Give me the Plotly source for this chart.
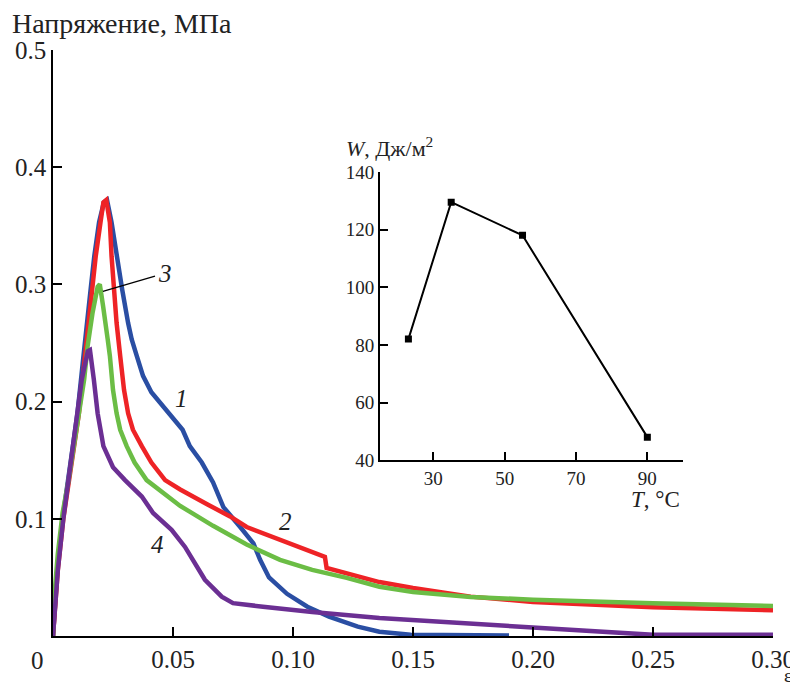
import plotly.graph_objects as go

# Curve 1 (blue)
x1 = [0, 0.0018, 0.004, 0.0062, 0.0082, 0.0102, 0.0127, 0.0144, 0.0157, 0.0172, 0.0192, 0.0212, 0.0225,
      0.0244, 0.0265, 0.0288, 0.0313, 0.0328, 0.0349, 0.0375, 0.041, 0.048, 0.054, 0.057, 0.062, 0.0667,
      0.071, 0.078, 0.0835, 0.0863, 0.090, 0.0975, 0.106, 0.115, 0.127, 0.136, 0.149, 0.19]
y1 = [0, 0.056, 0.1, 0.133, 0.162, 0.19, 0.239, 0.267, 0.296, 0.324, 0.353, 0.370, 0.372,
      0.353, 0.324, 0.296, 0.267, 0.253, 0.239, 0.222, 0.208, 0.19, 0.176, 0.162, 0.148, 0.131,
      0.11, 0.093, 0.079, 0.065, 0.050, 0.036, 0.025, 0.0165, 0.008, 0.0037, 0.001, 0.0005]

# Curve 2 (red)
x2 = [0, 0.002, 0.0043, 0.0065, 0.0088, 0.0108, 0.0133, 0.015, 0.0163, 0.0178, 0.0198, 0.021, 0.0222,
      0.0237, 0.0244, 0.0254, 0.0265, 0.028, 0.0296, 0.0313, 0.0333, 0.037, 0.041, 0.0467, 0.053, 0.0646,
      0.0738, 0.0807, 0.0946, 0.108, 0.1133, 0.114, 0.1224, 0.136, 0.150, 0.174, 0.20, 0.25, 0.30]
y2 = [0, 0.056, 0.1, 0.133, 0.162, 0.19, 0.239, 0.267, 0.296, 0.324, 0.353, 0.370, 0.372,
      0.353, 0.324, 0.296, 0.267, 0.239, 0.21, 0.19, 0.176, 0.162, 0.148, 0.133, 0.125, 0.112,
      0.102, 0.093, 0.082, 0.072, 0.0675, 0.058, 0.0538, 0.046, 0.041, 0.0336, 0.029, 0.0245, 0.022]

# Curve 3 (green)
x3 = [0, 0.0004, 0.002, 0.004, 0.0065, 0.009, 0.011, 0.013, 0.0144, 0.0165, 0.0186, 0.0195, 0.0209,
      0.022, 0.0228, 0.0237, 0.0244, 0.025, 0.0265, 0.028, 0.0307, 0.034, 0.039, 0.048, 0.053, 0.0578,
      0.0667, 0.0807, 0.0946, 0.108, 0.1224, 0.136, 0.150, 0.174, 0.20, 0.25, 0.30]
y3 = [0, 0.03, 0.07, 0.105, 0.133, 0.165, 0.19, 0.219, 0.247, 0.276, 0.298, 0.300, 0.281,
      0.267, 0.253, 0.239, 0.225, 0.21, 0.19, 0.176, 0.162, 0.148, 0.133, 0.119, 0.111, 0.105,
      0.094, 0.078, 0.065, 0.0564, 0.0496, 0.042, 0.0376, 0.0333, 0.031, 0.028, 0.0257]

# Curve 4 (purple)
x4 = [0, 0.001, 0.002, 0.0043, 0.0065, 0.0085, 0.0104, 0.012, 0.0145, 0.0154, 0.017, 0.0186, 0.021,
      0.025, 0.030, 0.037, 0.0417, 0.0494, 0.055, 0.059, 0.0633, 0.0703, 0.075, 0.0875, 0.108, 0.136,
      0.16, 0.20, 0.243, 0.25, 0.30]
y4 = [0, 0.028, 0.056, 0.1, 0.135, 0.162, 0.19, 0.219, 0.243, 0.244, 0.219, 0.19, 0.162,
      0.144, 0.133, 0.119, 0.105, 0.0906, 0.076, 0.062, 0.048, 0.0336, 0.028, 0.025, 0.0205, 0.0154,
      0.0125, 0.008, 0.0026, 0.001, 0.001]

# Inset: W vs T
inset_T = [23, 35, 55, 90]
inset_W = [82, 129.5, 118, 48]

x_tickvals = [0.05, 0.10, 0.15, 0.20, 0.25, 0.30]
x_ticktext = ["0.05", "0.10", "0.15", "0.20", "0.25", "0.30"]
y_tickvals = [0.1, 0.2, 0.3, 0.4, 0.5]
y_ticktext = ["0.1", "0.2", "0.3", "0.4", "0.5"]
inset_xticks = [30, 50, 70, 90]
inset_yticks = [40, 60, 80, 100, 120, 140]

FONT = "Liberation Serif"
BLUE = "#2a4ea3"
RED = "#ee2326"
GREEN = "#6bbd45"
PURPLE = "#6b2f93"

fig = go.Figure()
for xs, ys, c in [(x1, y1, BLUE), (x2, y2, RED), (x3, y3, GREEN), (x4, y4, PURPLE)]:
    fig.add_trace(go.Scatter(x=xs, y=ys, mode="lines", line=dict(color=c, width=4.5),
                             showlegend=False, hoverinfo="skip"))

fig.add_trace(go.Scatter(x=inset_T, y=inset_W, mode="lines+markers", xaxis="x2", yaxis="y2",
                         line=dict(color="black", width=2),
                         marker=dict(symbol="square", size=7, color="black"),
                         showlegend=False))

ax_common = dict(showgrid=False, zeroline=False, showline=True, linecolor="black", linewidth=1.5,
                 ticks="inside", tickcolor="black", tickwidth=1.5, mirror=False, automargin=False)

# page body has an 8px margin, so the figure is 790x680 and offset by 8px
fig.update_layout(
    width=790, height=680,
    margin=dict(l=45, r=25, t=42, b=52),
    paper_bgcolor="white", plot_bgcolor="white",
    font=dict(family=FONT, size=24, color="#222"),
    xaxis=dict(range=[0, 0.30], tickvals=x_tickvals, ticktext=x_ticktext, ticklen=9,
               tickfont=dict(family=FONT, size=25), **ax_common),
    yaxis=dict(range=[0, 0.5], tickvals=y_tickvals, ticktext=y_ticktext, ticklen=9,
               tickfont=dict(family=FONT, size=25), **ax_common),
    xaxis2=dict(domain=[0.454, 0.875], anchor="y2", range=[15, 100], tickvals=inset_xticks,
                ticklen=8, tickfont=dict(family=FONT, size=19), **ax_common),
    yaxis2=dict(domain=[0.300, 0.792], anchor="x2", range=[40, 140], tickvals=inset_yticks,
                ticklen=8, tickfont=dict(family=FONT, size=19), **ax_common),
)

ann = [
    dict(text="Напряжение, МПа", x=-0.06, y=1.046, xref="paper", yref="paper",
         xanchor="left", yanchor="middle", font=dict(family=FONT, size=28)),
    dict(text="0", x=-0.021, y=-0.042, xref="paper", yref="paper",
         xanchor="center", yanchor="middle", font=dict(family=FONT, size=25)),
    dict(text="ε", x=1.021, y=-0.068, xref="paper", yref="paper",
         xanchor="center", yanchor="middle", font=dict(family=FONT, size=19)),
    dict(text="<i>1</i>", x=0.0537, y=0.203, xref="x", yref="y", font=dict(family=FONT, size=25)),
    dict(text="<i>2</i>", x=0.0967, y=0.098, xref="x", yref="y", font=dict(family=FONT, size=25)),
    dict(text="<i>3</i>", x=0.0467, y=0.309, xref="x", yref="y", font=dict(family=FONT, size=25)),
    dict(text="<i>4</i>", x=0.0437, y=0.078, xref="x", yref="y", font=dict(family=FONT, size=25)),
    dict(text="<i>W</i>, Дж/м<sup>2</sup>", x=0.404, y=0.834, xref="paper", yref="paper",
         xanchor="left", yanchor="middle", font=dict(family=FONT, size=22)),
    dict(text="<i>T</i>, °C", x=0.8736, y=0.2325, xref="paper", yref="paper",
         xanchor="right", yanchor="middle", font=dict(family=FONT, size=23)),
]
for a in ann:
    a["showarrow"] = False
fig.update_layout(annotations=ann)

fig.add_shape(type="line", x0=0.0208, y0=0.294, x1=0.0425, y1=0.307, xref="x", yref="y",
              line=dict(color="black", width=1.3))

fig.write_html("out.html")
